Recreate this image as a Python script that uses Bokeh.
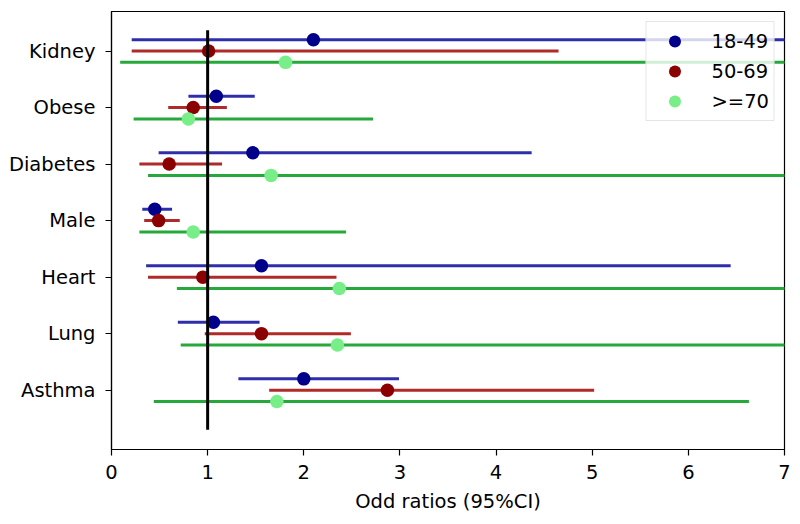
from bokeh.plotting import figure
from bokeh.models import FixedTicker, Legend, LegendItem, ColumnDataSource, Range1d
from bokeh.embed import file_html
from bokeh.resources import INLINE

# ---- data ----
categories = ["Kidney", "Obese", "Diabetes", "Male", "Heart", "Lung", "Asthma"]
groups = ["18-49", "50-69", ">=70"]

or_18_49 = [2.10, 1.09, 1.47, 0.45, 1.56, 1.06, 2.00]
lo_18_49 = [0.21, 0.80, 0.49, 0.32, 0.36, 0.69, 1.32]
hi_18_49 = [9.50, 1.49, 4.37, 0.63, 6.44, 1.54, 2.99]

or_50_69 = [1.01, 0.85, 0.60, 0.49, 0.95, 1.56, 2.87]
lo_50_69 = [0.21, 0.59, 0.29, 0.34, 0.38, 0.97, 1.64]
hi_50_69 = [4.65, 1.20, 1.15, 0.71, 2.34, 2.49, 5.02]

or_70 = [1.81, 0.80, 1.66, 0.85, 2.37, 2.35, 1.72]
lo_70 = [0.09, 0.23, 0.38, 0.29, 0.68, 0.72, 0.44]
hi_70 = [9.00, 2.72, 8.50, 2.44, 8.00, 8.20, 6.63]

x_ticks = [0, 1, 2, 3, 4, 5, 6, 7]
ref_x = 1
ref_y = [-0.7, 6.37]

# ---- styles ----
offsets = [0.2, 0.0, -0.2]
line_colors = ["#2e2eaa", "#b02a2a", "#26a93a"]
dot_colors = ["#00008b", "#8b0000", "#77ee88"]
FONT = "DejaVu Sans"
FS = "19.5px"

p = figure(width=800, height=524, output_backend="svg", toolbar_location=None,
           x_range=Range1d(0, 7), y_range=Range1d(-1.05, 6.7),
           min_border_left=111, min_border_right=16, min_border_top=11, min_border_bottom=75)

p.xgrid.visible = False
p.ygrid.visible = False
p.outline_line_color = "black"
p.outline_line_width = 1.2
p.background_fill_color = "white"
p.border_fill_color = "white"

n = len(categories)
ypos = [n - 1 - i for i in range(n)]

series = [(or_18_49, lo_18_49, hi_18_49), (or_50_69, lo_50_69, hi_50_69), (or_70, lo_70, hi_70)]
dot_renderers = []
for gi, (orv, lo, hi) in enumerate(series):
    ys = [y + offsets[gi] for y in ypos]
    src = ColumnDataSource(dict(y=ys, orv=orv, lo=lo, hi=hi))
    p.segment(x0="lo", y0="y", x1="hi", y1="y", source=src,
              line_color=line_colors[gi], line_width=3)

for gi, (orv, lo, hi) in enumerate(series):
    ys = [y + offsets[gi] for y in ypos]
    src = ColumnDataSource(dict(y=ys, orv=orv))
    r = p.scatter(x="orv", y="y", source=src, size=13.5, marker="circle",
                  fill_color=dot_colors[gi], line_color=None)
    dot_renderers.append(r)

p.line(x=[ref_x, ref_x], y=ref_y, line_color="black", line_width=3)

# axes
p.xaxis.ticker = FixedTicker(ticks=x_ticks)
p.xaxis.minor_tick_line_color = None
p.xaxis.major_tick_out = 6
p.xaxis.major_tick_in = 0
p.xaxis.major_label_standoff = 9
p.xaxis.axis_label = "Odd ratios (95%CI)"
p.xaxis.axis_label_standoff = 8
p.xaxis.axis_label_text_font_style = "normal"

p.yaxis.ticker = FixedTicker(ticks=ypos)
p.yaxis.major_label_overrides = {y: c for y, c in zip(ypos, categories)}
p.yaxis.minor_tick_line_color = None
p.yaxis.major_tick_out = 6
p.yaxis.major_tick_in = 0
p.yaxis.major_label_standoff = 10

for ax in (p.xaxis, p.yaxis):
    ax.major_label_text_font = FONT
    ax.major_label_text_font_size = FS
    ax.major_label_text_color = "black"
    ax.axis_label_text_font = FONT
    ax.axis_label_text_font_size = FS
    ax.axis_label_text_color = "black"
    ax.axis_line_color = "black"
    ax.axis_line_width = 1.2
    ax.major_tick_line_color = "black"
    ax.major_tick_line_width = 1.2

legend = Legend(items=[LegendItem(label=g, renderers=[r]) for g, r in zip(groups, dot_renderers)],
                location="top_right")
legend.margin = 10
legend.padding = 4
legend.spacing = 0
legend.glyph_width = 48
legend.glyph_height = 30
legend.label_height = 30
legend.label_standoff = 13
legend.label_text_font = FONT
legend.label_text_font_size = FS
legend.label_text_color = "black"
legend.background_fill_color = "white"
legend.background_fill_alpha = 0.8
legend.border_line_color = "#cccccc"
legend.border_line_width = 1
p.add_layout(legend)

open("out.html", "w").write(file_html(p, INLINE))
